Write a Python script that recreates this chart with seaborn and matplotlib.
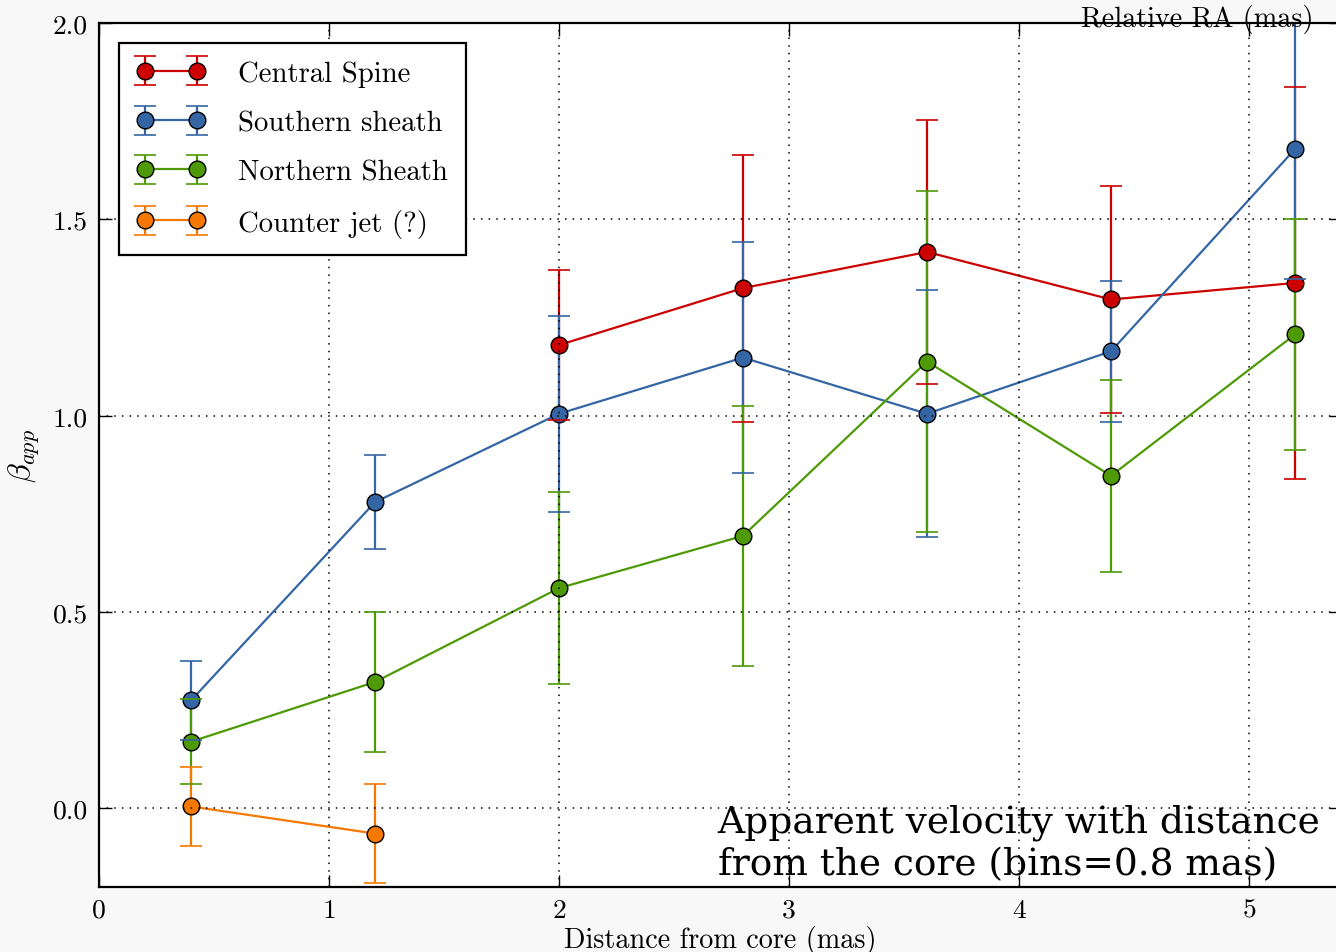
import numpy as np
import pandas as pd
import matplotlib
matplotlib.use("Agg")
import matplotlib.pyplot as plt
import seaborn as sns

# ---------------- data ----------------
series_names = ["Central Spine", "Southern sheath", "Northern Sheath", "Counter jet (?)"]
series_colors = ["#cc0000", "#3465a4", "#4e9a06", "#f57900"]

spine_x = [2.0, 2.8, 3.6, 4.4, 5.2]
spine_y = [1.18, 1.325, 1.417, 1.296, 1.338]
spine_err = [0.19, 0.34, 0.337, 0.29, 0.50]

south_x = [0.4, 1.2, 2.0, 2.8, 3.6, 4.4, 5.2]
south_y = [0.275, 0.78, 1.005, 1.148, 1.005, 1.164, 1.679]
south_err = [0.10, 0.12, 0.25, 0.295, 0.315, 0.18, 0.33]

north_x = [0.4, 1.2, 2.0, 2.8, 3.6, 4.4, 5.2]
north_y = [0.17, 0.322, 0.561, 0.694, 1.138, 0.847, 1.207]
north_err = [0.108, 0.177, 0.244, 0.33, 0.435, 0.245, 0.295]

counter_x = [0.4, 1.2]
counter_y = [0.005, -0.064]
counter_err = [0.10, 0.127]

x_ticks = [0, 1, 2, 3, 4, 5]
y_ticks = [0.0, 0.5, 1.0, 1.5, 2.0]

xs = [spine_x, south_x, north_x, counter_x]
ys = [spine_y, south_y, north_y, counter_y]
errs = [spine_err, south_err, north_err, counter_err]

df = pd.concat(
    [pd.DataFrame({"dist": x, "beta": y, "err": e, "component": n})
     for x, y, e, n in zip(xs, ys, errs, series_names)],
    ignore_index=True,
)

# ---------------- style ----------------
sns.set_style("white", {
    "axes.facecolor": "white",
    "figure.facecolor": "#f8f8f8",
    "axes.edgecolor": "black",
    "axes.labelcolor": "black",
    "text.color": "black",
    "xtick.color": "black",
    "ytick.color": "black",
    "xtick.direction": "in",
    "ytick.direction": "in",
    "xtick.top": True,
    "ytick.right": True,
    "xtick.bottom": True,
    "ytick.left": True,
})
plt.rcParams["font.family"] = ["cmr10", "DejaVu Serif"]
plt.rcParams["mathtext.fontset"] = "cm"
plt.rcParams["axes.formatter.use_mathtext"] = True
plt.rcParams["axes.unicode_minus"] = False

fig = plt.figure(figsize=(13.36, 9.53), dpi=100)
fig.patch.set_facecolor("#f8f8f8")
ax = fig.add_axes([99 / 1336, 65 / 953, 1242 / 1336, 864 / 953])

palette = dict(zip(series_names, series_colors))

sns.lineplot(data=df, x="dist", y="beta", hue="component", hue_order=series_names,
             palette=palette, marker="o", markersize=12, markeredgecolor="black",
             markeredgewidth=1.0, linewidth=1.6, sort=False, errorbar=None,
             legend=False, ax=ax, zorder=2.5)
data_lines = {matplotlib.colors.to_hex(l.get_color()): l for l in ax.lines}

handles = []
for name, color in zip(series_names, series_colors):
    sub = df[df["component"] == name]
    eb = ax.errorbar(sub["dist"], sub["beta"], yerr=sub["err"], fmt="none",
                     ecolor=color, elinewidth=1.6, capsize=8, capthick=1.2, zorder=2)
    for cap in eb[1]:
        cap.set_zorder(3)
    handles.append((eb, data_lines[matplotlib.colors.to_hex(color)]))

ax.set_xlim(0, 5.4)
ax.set_ylim(-0.2, 2.0)
ax.set_xticks(x_ticks)
ax.set_yticks(y_ticks)
ax.set_xticklabels([str(t) for t in x_ticks])
ax.set_yticklabels([f"{t:.1f}" for t in y_ticks])
ax.tick_params(axis="both", which="major", length=9, width=1, labelsize=19.8, pad=8,
               color="black", labelcolor="black")
ax.grid(True, color="black", linestyle=(0, (1, 4)), linewidth=1.1)
ax.set_axisbelow(False)
for sp in ax.spines.values():
    sp.set_linewidth(1.6)
    sp.set_color("black")

ax.set_xlabel("Distance from core (mas)", fontsize=20.3, labelpad=2, color="black")
ax.set_ylabel(r"$\beta_{app}$", fontsize=23, labelpad=8, color="black")

leg = ax.legend(handles, series_names, loc="upper left", numpoints=2,
                handler_map={tuple: matplotlib.legend_handler.HandlerTuple(ndivide=1)},
                fontsize=20.7, frameon=True, fancybox=False, edgecolor="black",
                framealpha=1, borderaxespad=0.7, borderpad=0.6, handlelength=2.4,
                handletextpad=1.15, labelspacing=0.8)
leg.get_frame().set_linewidth(1.6)
leg.set_zorder(5)
for t in leg.get_texts():
    t.set_color("black")

ax.text(2.69, -0.167, "Apparent velocity with distance\nfrom the core (bins=0.8 mas)",
        family="DejaVu Serif", fontsize=27, ha="left", va="baseline",
        linespacing=1.2, zorder=1, color="black")

fig.text(1197 / 1336, 1 - 27 / 953, "Relative RA (mas)", fontsize=20.3,
         ha="center", va="baseline", color="black")

fig.savefig("out.png", dpi=100, facecolor=fig.get_facecolor())
